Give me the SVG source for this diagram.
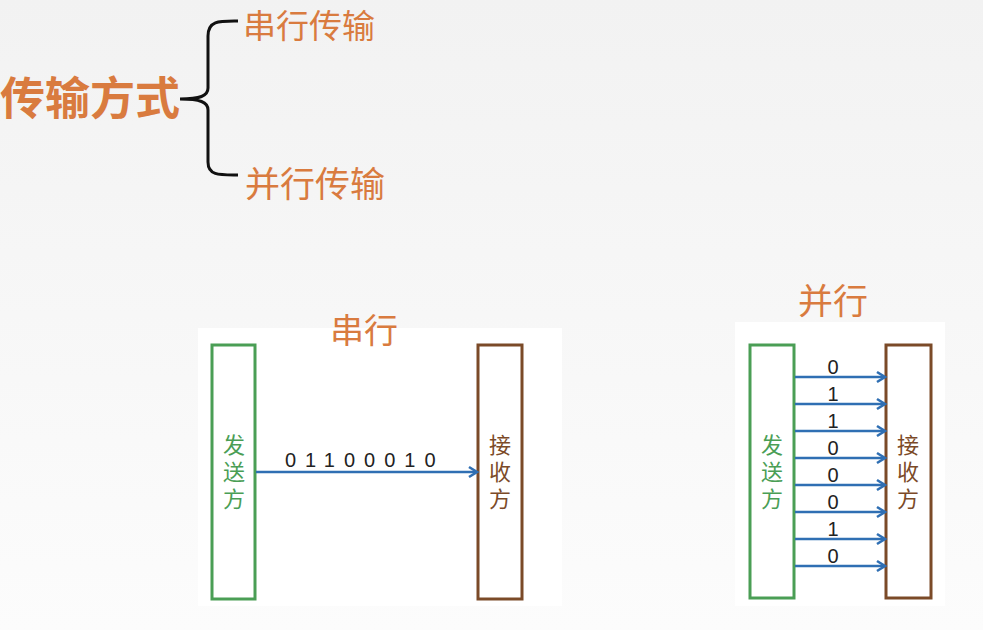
<svg xmlns="http://www.w3.org/2000/svg" width="983" height="630" viewBox="0 0 983 630">
<defs>
<linearGradient id="bg" x1="0" y1="0" x2="0" y2="1">
<stop offset="0" stop-color="#f2f2f2"/>
<stop offset="1" stop-color="#fcfcfc"/>
</linearGradient>
<marker id="arr" markerWidth="14" markerHeight="14" refX="11" refY="7" orient="auto" markerUnits="userSpaceOnUse">
<path d="M3,2 L11,7 L3,12" fill="none" stroke="#2f6fb3" stroke-width="2.6"/>
</marker>
<style>
.cjk{font-family:"Noto Sans CJK SC","Noto Sans",sans-serif;}
.or{fill:#d97b3f;}
.snd{fill:none;stroke:#4a9e55;stroke-width:3;}
.rcv{fill:none;stroke:#7b4a28;stroke-width:3;}
.vt{font-size:22px;writing-mode:tb;letter-spacing:5px;text-anchor:middle;}
.gt{fill:#4a9e55;}
.bt{fill:#7b4a28;}
.wire{stroke:#2f6fb3;stroke-width:2.6;fill:none;marker-end:url(#arr);}
.dig{font-family:"Liberation Sans",Arial,sans-serif;font-size:20px;fill:#222;}
.panel{fill:#ffffff;}
</style>
</defs>
<rect width="983" height="630" fill="url(#bg)"/>

<g id="title">
<text class="cjk or" x="0" y="115" font-size="45" font-weight="700">传输方式</text>
</g>
<g id="brace">
<path d="M238,21 C220,21 208,20 208,36 L208,88 C208,96 200,99 180,99 C200,99 208,102 208,110 L208,162 C208,176 220,175 238,175" fill="none" stroke="#111" stroke-width="3"/>
</g>
<g id="serial-label">
<text class="cjk or" x="243" y="38" font-size="33">串行传输</text>
</g>
<g id="parallel-label">
<text class="cjk or" x="245" y="197" font-size="35">并行传输</text>
</g>

<g id="serial-panel">
<rect class="panel" x="198" y="328" width="364" height="278"/>
<text class="cjk or" x="364" y="343" font-size="34" text-anchor="middle">串行</text>
</g>
<g id="serial-sender">
<rect class="snd" x="212" y="345" width="43" height="254"/>
<text class="cjk vt gt" x="234" y="474">发送方</text>
</g>
<g id="serial-receiver">
<rect class="rcv" x="478" y="345" width="44" height="254"/>
<text class="cjk vt bt" x="500" y="474">接收方</text>
</g>

<g id="parallel-panel">
<rect class="panel" x="735" y="322" width="210" height="284"/>
<text class="cjk or" x="833" y="314" font-size="35" text-anchor="middle">并行</text>
</g>
<g id="parallel-sender">
<rect class="snd" x="750" y="345" width="44" height="253"/>
<text class="cjk vt gt" x="772" y="474">发送方</text>
</g>
<g id="parallel-receiver">
<rect class="rcv" x="886" y="345" width="45" height="253"/>
<text class="cjk vt bt" x="908" y="474">接收方</text>
</g>

<g id="connectors">
<line class="wire" x1="256" y1="472" x2="477" y2="472"/>
<text class="dig" x="285" y="467" letter-spacing="9">01100010</text>
<line class="wire" x1="795" y1="377" x2="885" y2="377"/>
<line class="wire" x1="795" y1="404" x2="885" y2="404"/>
<line class="wire" x1="795" y1="431" x2="885" y2="431"/>
<line class="wire" x1="795" y1="458" x2="885" y2="458"/>
<line class="wire" x1="795" y1="485" x2="885" y2="485"/>
<line class="wire" x1="795" y1="512" x2="885" y2="512"/>
<line class="wire" x1="795" y1="539" x2="885" y2="539"/>
<line class="wire" x1="795" y1="566" x2="885" y2="566"/>
<text class="dig" x="833" y="374" text-anchor="middle">0</text>
<text class="dig" x="833" y="401" text-anchor="middle">1</text>
<text class="dig" x="833" y="428" text-anchor="middle">1</text>
<text class="dig" x="833" y="455" text-anchor="middle">0</text>
<text class="dig" x="833" y="482" text-anchor="middle">0</text>
<text class="dig" x="833" y="509" text-anchor="middle">0</text>
<text class="dig" x="833" y="536" text-anchor="middle">1</text>
<text class="dig" x="833" y="563" text-anchor="middle">0</text>
</g>
</svg>
